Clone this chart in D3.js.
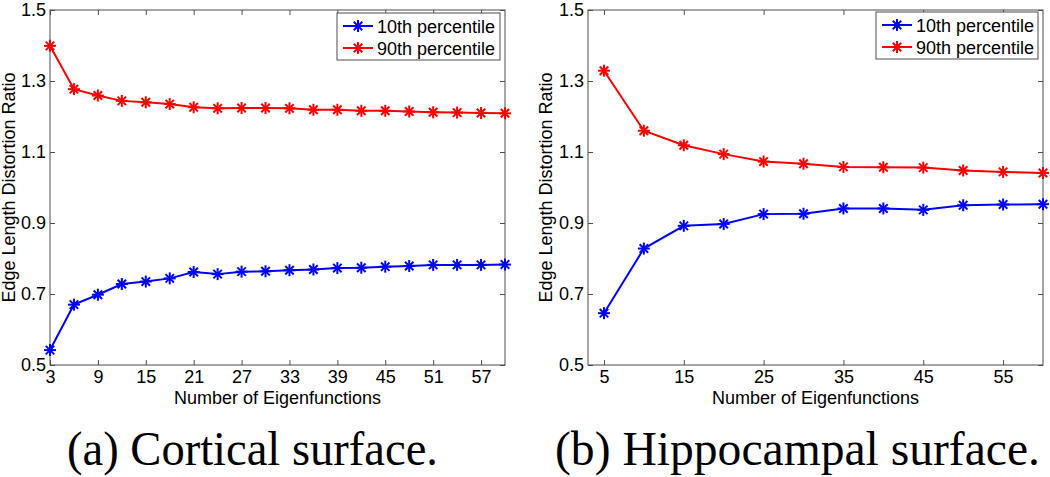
<!DOCTYPE html>
<html>
<head>
<meta charset="utf-8">
<script src="https://cdn.jsdelivr.net/npm/d3@7/dist/d3.min.js"></script>
<style>
  html, body { margin: 0; padding: 0; background: #fff; }
  svg { display: block; }
  text { font-family: "Liberation Sans", Arial, sans-serif; }
</style>
</head>
<body>
<svg id="chart" width="1050" height="477"></svg>
<script>
// ---- data ----
const seriesNames = ["10th percentile", "90th percentile"];
const seriesColors = ["#0000ff", "#ff0000"];

const corticalX = [3, 6, 9, 12, 15, 18, 21, 24, 27, 30, 33, 36, 39, 42, 45, 48, 51, 54, 57, 60];
const cortical10 = [0.542, 0.670, 0.698, 0.728, 0.735, 0.744, 0.762, 0.756, 0.763, 0.764, 0.767, 0.769, 0.773, 0.774, 0.777, 0.779, 0.782, 0.782, 0.782, 0.783];
const cortical90 = [1.399, 1.277, 1.259, 1.244, 1.240, 1.235, 1.226, 1.223, 1.224, 1.224, 1.223, 1.219, 1.219, 1.216, 1.216, 1.214, 1.212, 1.211, 1.210, 1.209];

const hippoX = [5, 10, 15, 20, 25, 30, 35, 40, 45, 50, 55, 60];
const hippo10 = [0.646, 0.828, 0.892, 0.897, 0.925, 0.926, 0.941, 0.941, 0.937, 0.950, 0.952, 0.953];
const hippo90 = [1.329, 1.160, 1.119, 1.094, 1.073, 1.067, 1.058, 1.057, 1.056, 1.048, 1.044, 1.041];

const corticalXTicks = [3, 9, 15, 21, 27, 33, 39, 45, 51, 57];
const hippoXTicks = [5, 15, 25, 35, 45, 55];
const yTicks = [0.5, 0.7, 0.9, 1.1, 1.3, 1.5];

const xDomain = [3, 60];
const yDomain = [0.5, 1.5];

const xLabel = "Number of Eigenfunctions";
const yLabel = "Edge Length Distortion Ratio";
const captions = ["(a) Cortical surface.", "(b) Hippocampal surface."];

// ---- drawing ----
const svg = d3.select("#chart");

const panels = [
  { left: 50, right: 505, xs: corticalX, ys: [cortical10, cortical90], xt: corticalXTicks,
    legend: { x: 337, y: 13, w: 163, h: 47 }, ylabX: 9, caption: captions[0], capX: 67, capW: 371 },
  { left: 588, right: 1043, xs: hippoX, ys: [hippo10, hippo90], xt: hippoXTicks,
    legend: { x: 876, y: 12, w: 162, h: 47 }, ylabX: 546, caption: captions[1], capX: 555, capW: 485 }
];

const plotTop = 10, plotBottom = 365;
const axisColor = "#4d4d4d";

function asterisk(g, cx, cy, r, color) {
  const d = r * Math.SQRT1_2;
  const segs = [[0, -r, 0, r], [-r, 0, r, 0], [-d, -d, d, d], [-d, d, d, -d]];
  g.selectAll(null).data(segs).enter().append("line")
    .attr("x1", s => cx + s[0]).attr("y1", s => cy + s[1])
    .attr("x2", s => cx + s[2]).attr("y2", s => cy + s[3])
    .attr("stroke", color).attr("stroke-width", 2);
}

panels.forEach(p => {
  const x = d3.scaleLinear().domain(xDomain).range([p.left, p.right]);
  const y = d3.scaleLinear().domain(yDomain).range([plotBottom, plotTop]);
  const g = svg.append("g");

  // box
  g.append("rect").attr("x", p.left).attr("y", plotTop)
    .attr("width", p.right - p.left).attr("height", plotBottom - plotTop)
    .attr("fill", "#fff").attr("stroke", axisColor).attr("stroke-width", 1);

  const styleAxis = (sel, showText) => {
    sel.select(".domain").remove();
    sel.selectAll(".tick line").attr("stroke", axisColor);
    sel.selectAll(".tick text").attr("fill", "#000").style("font-size", "18px")
      .style("font-family", "'Liberation Sans', Arial, sans-serif");
    if (!showText) sel.selectAll(".tick text").remove();
  };

  g.append("g").attr("transform", `translate(0,${plotBottom})`)
    .call(d3.axisBottom(x).tickValues(p.xt).tickFormat(d3.format("d")).tickSizeInner(-5).tickSizeOuter(0).tickPadding(5))
    .call(s => styleAxis(s, true));
  g.append("g").attr("transform", `translate(0,${plotTop})`)
    .call(d3.axisTop(x).tickValues(p.xt).tickSizeInner(-5).tickSizeOuter(0))
    .call(s => styleAxis(s, false));
  g.append("g").attr("transform", `translate(${p.left},0)`)
    .call(d3.axisLeft(y).tickValues(yTicks).tickFormat(d3.format(".1f")).tickSizeInner(-5).tickSizeOuter(0).tickPadding(4))
    .call(s => styleAxis(s, true));
  g.append("g").attr("transform", `translate(${p.right},0)`)
    .call(d3.axisRight(y).tickValues(yTicks).tickSizeInner(-5).tickSizeOuter(0))
    .call(s => styleAxis(s, false));

  // labels
  g.append("text").attr("x", (p.left + p.right) / 2).attr("y", 404)
    .attr("text-anchor", "middle").style("font-size", "18px").text(xLabel);
  g.append("text").attr("transform", `translate(${p.ylabX + 6},${(plotTop + plotBottom) / 2}) rotate(-90)`)
    .attr("text-anchor", "middle").style("font-size", "18px").text(yLabel);

  // series
  const line = d3.line().x(d => x(d[0])).y(d => y(d[1]));
  p.ys.forEach((vals, i) => {
    const pts = p.xs.map((xv, j) => [xv, vals[j]]);
    g.append("path").datum(pts).attr("d", line)
      .attr("fill", "none").attr("stroke", seriesColors[i]).attr("stroke-width", 2);
    const mg = g.append("g");
    pts.forEach(pt => asterisk(mg, x(pt[0]), y(pt[1]), 6, seriesColors[i]));
  });

  // legend
  const L = p.legend;
  g.append("rect").attr("x", L.x).attr("y", L.y).attr("width", L.w).attr("height", L.h)
    .attr("fill", "#fff").attr("stroke", axisColor).attr("stroke-width", 1);
  seriesNames.forEach((name, i) => {
    const cy = L.y + 13 + i * 22;
    g.append("line").attr("x1", L.x + 6).attr("x2", L.x + 36).attr("y1", cy).attr("y2", cy)
      .attr("stroke", seriesColors[i]).attr("stroke-width", 2);
    asterisk(g, L.x + 21, cy, 6, seriesColors[i]);
    g.append("text").attr("x", L.x + 40).attr("y", cy + 6.5).style("font-size", "18px")
      .attr("fill", "#000").text(name);
  });

  // caption
  svg.append("text").attr("x", p.capX).attr("y", 465)
    .style("font-family", "'Liberation Serif', 'Times New Roman', serif").style("font-size", "48px")
    .attr("textLength", p.capW).attr("lengthAdjust", "spacingAndGlyphs")
    .attr("fill", "#000").text(p.caption);
});
</script>
</body>
</html>
